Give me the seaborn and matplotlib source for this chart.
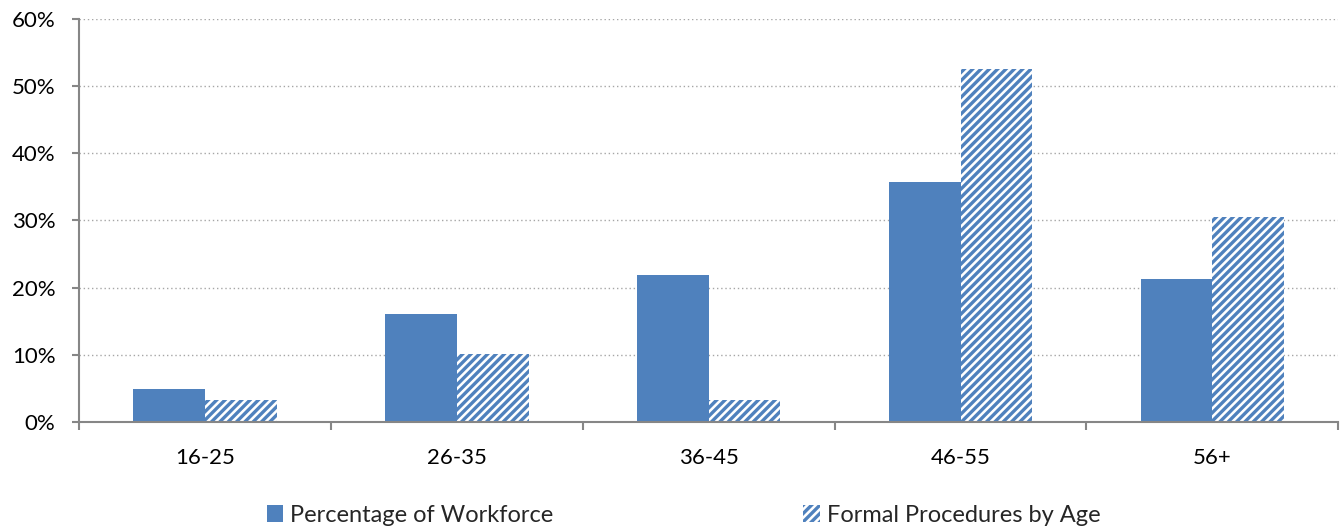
import matplotlib
matplotlib.use("Agg")
import matplotlib.pyplot as plt
import seaborn as sns
import pandas as pd
import numpy as np
from matplotlib.ticker import PercentFormatter, FixedLocator

# Age bands and the two series (percent)
age_groups = ["16-25", "26-35", "36-45", "46-55", "56+"]
workforce = [4.9, 16.1, 21.9, 35.7, 21.3]
procedures = [3.3, 10.1, 3.3, 52.5, 30.5]
series_names = ["Percentage of Workforce", "Formal Procedures by Age"]

BLUE = "#4F81BD"
AXIS_GREY = "#868686"

sns.set_theme(style="white")
plt.rcParams["font.family"] = ["Lato", "DejaVu Sans"]
plt.rcParams["hatch.linewidth"] = 2.4

df = pd.DataFrame({
    "age": age_groups * 2,
    "value": workforce + procedures,
    "series": [series_names[0]] * len(age_groups) + [series_names[1]] * len(age_groups),
})

fig = plt.figure(figsize=(13.41, 5.26), dpi=100)
ax = fig.add_axes([0.059, 0.198, 0.939, 0.766])

sns.barplot(data=df, x="age", y="value", hue="series", order=age_groups,
            hue_order=series_names, palette=[BLUE, BLUE], width=0.57,
            saturation=1, ax=ax, legend=False)

# solid first series, striped second series
for p in ax.containers[0]:
    p.set_edgecolor(BLUE)
    p.set_linewidth(0)
for p in ax.containers[1]:
    p.set_facecolor("white")
    p.set_edgecolor(BLUE)
    p.set_hatch("////")
    p.set_linewidth(0)

ax.set_ylim(0, 60)
ax.set_xlim(-0.5, len(age_groups) - 0.5)
ax.set_yticks(np.arange(0, 61, 10))
ax.yaxis.set_major_formatter(PercentFormatter(decimals=0))
ax.set_xlabel("")
ax.set_ylabel("")

ax.yaxis.grid(True, linestyle=(0, (1, 2)), color="#A6A6A6", linewidth=1)
ax.set_axisbelow(True)

sns.despine(ax=ax, top=True, right=True)
for s in ["left", "bottom"]:
    ax.spines[s].set_color(AXIS_GREY)
    ax.spines[s].set_linewidth(1.5)

ax.tick_params(axis="y", which="major", left=True, length=5, width=1.5,
               color=AXIS_GREY, labelsize=16, pad=12, labelcolor="black")
ax.tick_params(axis="x", which="major", bottom=False, length=0,
               labelsize=16, pad=19, labelcolor="black")
ax.xaxis.set_minor_locator(FixedLocator(np.arange(-0.5, len(age_groups), 1.0)))
ax.tick_params(axis="x", which="minor", bottom=True, length=6, width=1.5,
               color=AXIS_GREY)

handles = [ax.containers[0][0], ax.containers[1][0]]
ax.legend(handles, series_names, loc="center", bbox_to_anchor=(0.48, -0.232),
          ncol=2, frameon=False, fontsize=17, handlelength=0.68,
          handleheight=0.68, handletextpad=0.3, columnspacing=10.6)

fig.savefig("out.png", dpi=100)
